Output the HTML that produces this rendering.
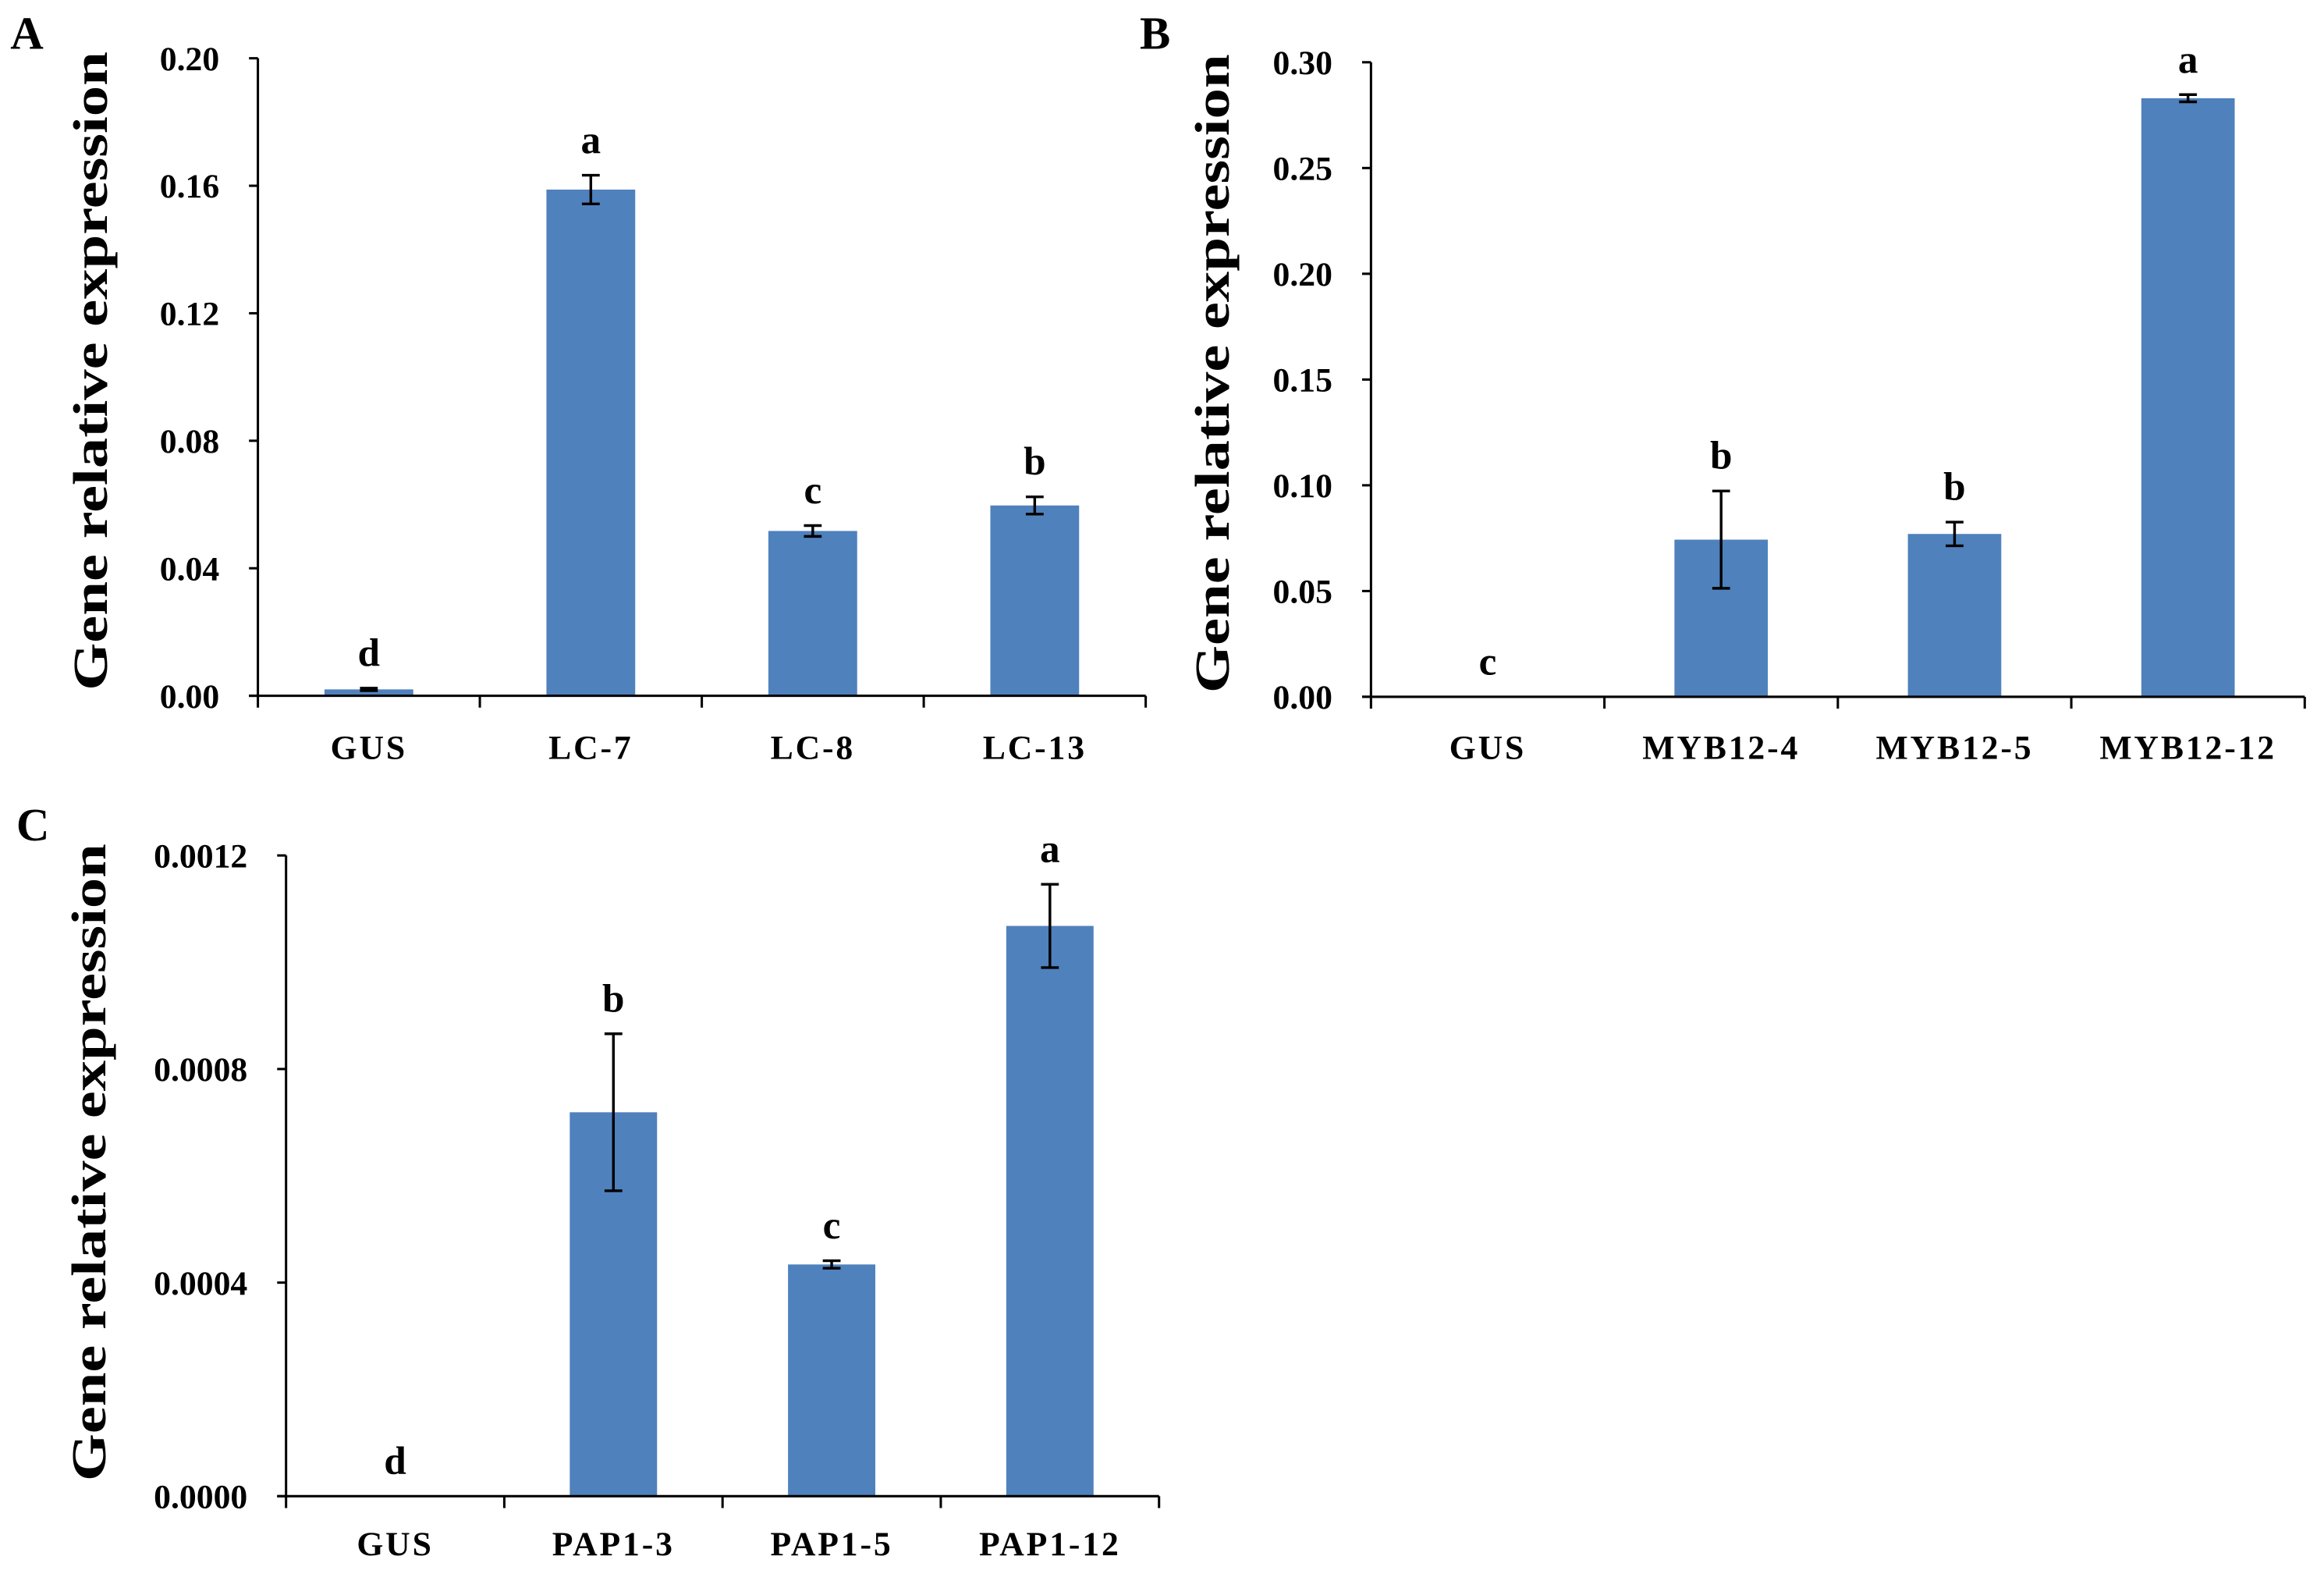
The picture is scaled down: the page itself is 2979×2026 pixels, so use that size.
<!DOCTYPE html>
<html><head><meta charset="utf-8"><style>
html,body{margin:0;padding:0;background:#fff;}
svg{display:block;}
text{font-family:"Liberation Serif",serif;font-weight:bold;fill:#000;}
</style></head><body>
<svg id="fig" width="2979" height="2026" viewBox="0 0 1568 1066.4" preserveAspectRatio="none" xmlns="http://www.w3.org/2000/svg"></svg>
<script>
// Panel A data
const catsA = ["GUS", "LC-7", "LC-8", "LC-13"];
const valsA = [0.002, 0.1588, 0.0517, 0.0597];
const errsA = [0.0004, 0.0045, 0.0017, 0.0027];
const lettersA = ["d", "a", "c", "b"];
const ticksA = [0, 0.04, 0.08, 0.12, 0.16, 0.20];
const tickLabelsA = ["0.00", "0.04", "0.08", "0.12", "0.16", "0.20"];
// Panel B data
const catsB = ["GUS", "MYB12-4", "MYB12-5", "MYB12-12"];
const valsB = [0, 0.0743, 0.077, 0.283];
const errsB = [0, 0.023, 0.0056, 0.0017];
const lettersB = ["c", "b", "b", "a"];
const ticksB = [0, 0.05, 0.10, 0.15, 0.20, 0.25, 0.30];
const tickLabelsB = ["0.00", "0.05", "0.10", "0.15", "0.20", "0.25", "0.30"];
// Panel C data
const catsC = ["GUS", "PAP1-3", "PAP1-5", "PAP1-12"];
const valsC = [0, 0.000719, 0.000434, 0.001068];
const errsC = [0, 0.000147, 0.000007, 0.000078];
const lettersC = ["d", "b", "c", "a"];
const ticksC = [0, 0.0004, 0.0008, 0.0012];
const tickLabelsC = ["0.0000", "0.0004", "0.0008", "0.0012"];

const NS = "http://www.w3.org/2000/svg";
const svg = document.getElementById("fig");
function mk(tag, attrs, parent) {
  const e = document.createElementNS(NS, tag);
  for (const k in attrs) e.setAttribute(k, attrs[k]);
  (parent || svg).appendChild(e);
  return e;
}
function panel(p) {
  const g = mk("g", {});
  
  
  const y = v => p.y0 - (v / p.max) * (p.y0 - p.yTop);
  const cw = (p.x1 - p.x0) / p.cats.length;
  const xc = i => p.x0 + cw * (i + 0.5);
  const bw = cw * 0.4;
  const pl = mk("text", {x: p.lx, y: p.ly, "font-size": 31}, g);
  pl.textContent = p.id;
  
  
  const yt = mk("text", {x: 0, y: 0, "font-size": 33, "text-anchor": "middle", transform: `translate(${p.tx},${(p.y0 + p.yTop) / 2 + p.tdy}) rotate(-90)`, textLength: p.tl, lengthAdjust: "spacingAndGlyphs"}, g);
  yt.textContent = "Gene  relative expression";
  
  
  p.vals.forEach((v, i) => {
    if (v > 0) {
      const r = mk("rect", {x: xc(i) - bw / 2, y: y(v), width: bw, height: p.y0 - y(v), fill: "#4f81bd"}, g);
      
      
    }
    const e = p.errs[i];
    if (e > 0) {
      const eg = mk("g", {stroke: "#000", "stroke-width": 1.8}, g);
      
      
      mk("line", {x1: xc(i), x2: xc(i), y1: y(v + e), y2: y(Math.max(0, v - e))}, eg);
      mk("line", {x1: xc(i) - 6, x2: xc(i) + 6, y1: y(v + e), y2: y(v + e)}, eg);
      mk("line", {x1: xc(i) - 6, x2: xc(i) + 6, y1: y(Math.max(0, v - e)), y2: y(Math.max(0, v - e))}, eg);
    }
    const lt = mk("text", {x: xc(i), y: y(v + e) - 15, "font-size": 27, "text-anchor": "middle"}, g);
    lt.textContent = p.letters[i];
    
    
    const xl = mk("text", {x: xc(i), y: p.xly, "font-size": 23, "text-anchor": "middle", "letter-spacing": 1.5}, g);
    xl.textContent = p.cats[i];
    
    
  });
  const ax = mk("g", {stroke: "#000", "stroke-width": 1.6}, g);
  
  
  mk("line", {x1: p.x0, x2: p.x0, y1: p.yTop, y2: p.y0}, ax);
  mk("line", {x1: p.x0 - 6, x2: p.x1, y1: p.y0, y2: p.y0}, ax);
  for (let i = 0; i <= p.cats.length; i++) {
    mk("line", {x1: p.x0 + cw * i, x2: p.x0 + cw * i, y1: p.y0, y2: p.y0 + 8}, ax);
  }
  p.ticks.forEach((t, i) => {
    mk("line", {x1: p.x0 - 6, x2: p.x0, y1: y(t), y2: y(t)}, ax);
    const tl = mk("text", {x: p.x0 - 26, y: y(t) + 8, "font-size": 23, "text-anchor": "end"}, g);
    tl.textContent = p.tickLabels[i];
    
    
  });
}
panel({id: "A", cats: catsA, vals: valsA, errs: errsA, letters: lettersA, ticks: ticksA, tickLabels: tickLabelsA, max: 0.20,
  x0: 174, x1: 773, yTop: 39.3, y0: 469.3, xly: 512, lx: 7, ly: 33, tx: 72, tdy: -4, tl: 431});
panel({id: "B", cats: catsB, vals: valsB, errs: errsB, letters: lettersB, ticks: ticksB, tickLabels: tickLabelsB, max: 0.30,
  x0: 925, x1: 1555, yTop: 42, y0: 470, xly: 512, lx: 769, ly: 33, tx: 829, tdy: -4, tl: 431});
panel({id: "C", cats: catsC, vals: valsC, errs: errsC, letters: lettersC, ticks: ticksC, tickLabels: tickLabelsC, max: 0.0012,
  x0: 193, x1: 782, yTop: 577, y0: 1009.2, xly: 1049, lx: 11, ly: 567, tx: 71, tdy: -9, tl: 430});
</script>
</body></html>
